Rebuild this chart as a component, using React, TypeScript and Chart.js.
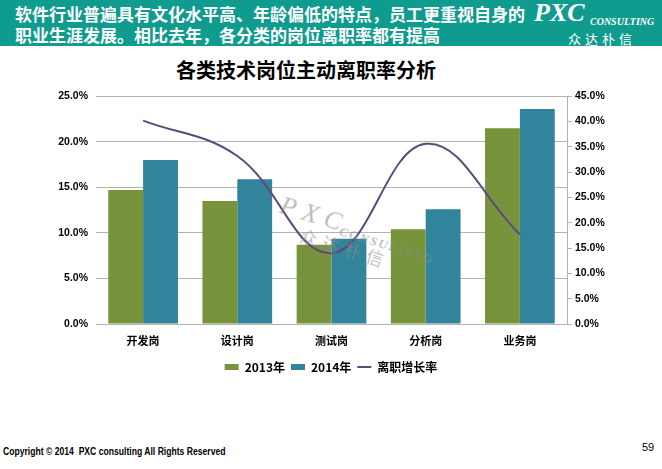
import React, { useEffect, useRef } from "react";
import { Chart, registerables } from "chart.js";

Chart.register(...registerables);

const categories = ["开发岗", "设计岗", "测试岗", "分析岗", "业务岗"];
const rate2013 = [14.7, 13.5, 8.7, 10.4, 21.5];
const rate2014 = [18.0, 15.9, 9.35, 12.6, 23.6];
const growthRate = [40.2, 33.2, 14.0, 35.6, 17.7];
const seriesNames = ["2013年", "2014年", "离职增长率"];

const GREEN = "#77933C";
const TEAL = "#31849B";
const PURPLE = "#5F497A";
const GRID = "#B3B3B3";

const tickFont = { family: "'Liberation Sans', Arial, sans-serif", size: 10.5, weight: "bold" as const };
const cjkFont = "'Noto Sans CJK SC', 'Noto Sans', sans-serif";

export default function App() {
  const ref = useRef<HTMLCanvasElement | null>(null);

  useEffect(() => {
    document.body.style.margin = "0";
    const canvas = ref.current;
    if (!canvas) return;
    const chart = new Chart(canvas, {
      type: "bar",
      data: {
        labels: categories,
        datasets: [
          {
            type: "bar",
            label: seriesNames[0],
            data: rate2013,
            backgroundColor: GREEN,
            yAxisID: "y",
            order: 2,
            barPercentage: 1,
            categoryPercentage: 0.74,
          },
          {
            type: "bar",
            label: seriesNames[1],
            data: rate2014,
            backgroundColor: TEAL,
            yAxisID: "y",
            order: 2,
            barPercentage: 1,
            categoryPercentage: 0.74,
          },
          {
            type: "line",
            label: seriesNames[2],
            data: growthRate,
            borderColor: PURPLE,
            backgroundColor: PURPLE,
            borderWidth: 2,
            pointRadius: 0,
            tension: 0.4,
            fill: false,
            yAxisID: "y1",
            order: 0,
          },
        ],
      },
      options: {
        responsive: false,
        animation: false,
        devicePixelRatio: 1,
        layout: { padding: { left: 0, right: 0, top: 10, bottom: 7 } },
        plugins: {
          tooltip: { enabled: false },
          legend: {
            position: "bottom",
            labels: {
              boxWidth: 14,
              boxHeight: 6,
              padding: 6,
              color: "#000",
              font: { family: cjkFont, size: 12, weight: "bold" },
              usePointStyle: true,
              pointStyleWidth: 14,
              generateLabels: () => [
                { text: seriesNames[0], fillStyle: GREEN, strokeStyle: GREEN, lineWidth: 0, pointStyle: "rect", datasetIndex: 0, hidden: false },
                { text: seriesNames[1], fillStyle: TEAL, strokeStyle: TEAL, lineWidth: 0, pointStyle: "rect", datasetIndex: 1, hidden: false },
                { text: seriesNames[2], fillStyle: PURPLE, strokeStyle: PURPLE, lineWidth: 2, pointStyle: "line", datasetIndex: 2, hidden: false },
              ] as any,
            },
          },
        },
        scales: {
          x: {
            grid: { display: false, drawTicks: false },
            border: { display: true, color: GRID, width: 1 },
            ticks: {
              color: "#000",
              padding: 10,
              font: { family: cjkFont, size: 11, weight: "bold" },
            },
            afterFit: (s: any) => {
              s.height = 31;
            },
          },
          y: {
            position: "left",
            min: 0,
            max: 25,
            grid: { color: GRID, lineWidth: 1, drawTicks: false },
            border: { display: false },
            ticks: {
              stepSize: 5,
              padding: 8,
              color: "#000",
              font: tickFont,
              callback: (v: any) => Number(v).toFixed(1) + "%",
            },
            afterFit: (s: any) => {
              s.width = 96;
            },
          },
          y1: {
            position: "right",
            min: 0,
            max: 45,
            grid: { drawOnChartArea: false, drawTicks: true, tickLength: 5, color: GRID },
            border: { display: true, color: GRID, width: 1 },
            ticks: {
              stepSize: 5,
              padding: 3,
              color: "#000",
              font: tickFont,
              callback: (v: any) => Number(v).toFixed(1) + "%",
            },
            afterFit: (s: any) => {
              s.width = 95;
            },
          },
        },
      },
    });
    return () => chart.destroy();
  }, []);

  const serif = "'Liberation Serif', 'DejaVu Serif', serif";

  return (
    <div
      style={{
        position: "absolute",
        left: 0,
        top: 0,
        width: 662,
        height: 469,
        overflow: "hidden",
        background: "#fff",
        fontFamily: cjkFont,
      }}
    >
      <div
        style={{
          position: "absolute",
          left: 0,
          top: 0,
          width: 662,
          height: 46,
          background: "#109B8F",
        }}
      />
      <div
        style={{
          position: "absolute",
          left: 15,
          top: 3,
          color: "#fff",
          fontWeight: "bold",
          fontSize: 17,
          lineHeight: "21px",
          whiteSpace: "nowrap",
        }}
      >
        软件行业普遍具有文化水平高、年龄偏低的特点，员工更重视自身的
        <br />
        职业生涯发展。相比去年，各分类的岗位离职率都有提高
      </div>
      <div
        style={{
          position: "absolute",
          left: 534,
          top: -2,
          color: "#fff",
          fontFamily: serif,
          fontStyle: "italic",
          fontWeight: "bold",
          fontSize: 26,
          whiteSpace: "nowrap",
        }}
      >
        PXC
      </div>
      <div
        style={{
          position: "absolute",
          left: 590,
          top: 16,
          color: "#fff",
          fontFamily: serif,
          fontStyle: "italic",
          fontWeight: "bold",
          fontSize: 10,
          whiteSpace: "nowrap",
        }}
      >
        CONSULTING
      </div>
      <div
        style={{
          position: "absolute",
          left: 568,
          top: 29,
          color: "#fff",
          fontSize: 13,
          letterSpacing: 4,
          whiteSpace: "nowrap",
        }}
      >
        众达朴信
      </div>
      <div
        style={{
          position: "absolute",
          left: 0,
          width: 612,
          top: 57,
          textAlign: "center",
          fontWeight: "bold",
          fontSize: 20,
          lineHeight: "26px",
          color: "#000",
        }}
      >
        各类技术岗位主动离职率分析
      </div>
      <canvas
        ref={ref}
        width={662}
        height={308}
        style={{ position: "absolute", left: 0, top: 82, width: 662, height: 308 }}
      />
      <div
        style={{
          position: "absolute",
          left: 285,
          top: 184,
          width: 200,
          height: 60,
          transform: "rotate(17deg)",
          transformOrigin: "0 0",
          color: "rgba(140,140,140,0.6)",
          fontFamily: serif,
          fontStyle: "italic",
          whiteSpace: "nowrap",
          pointerEvents: "none",
        }}
      >
        <div style={{ position: "absolute", left: 2, top: 6, fontSize: 26, lineHeight: "30px", letterSpacing: 7 }}>PXC</div>
        <div style={{ position: "absolute", left: 66, top: 21, fontSize: 13, lineHeight: "15px", fontWeight: "bold", letterSpacing: 1.5 }}>
          CONSULTING
        </div>
        <div
          style={{
            position: "absolute",
            left: 30,
            top: 33,
            fontSize: 17,
            lineHeight: "22px",
            letterSpacing: 6,
            fontFamily: cjkFont,
            fontStyle: "normal",
          }}
        >
          众达朴信
        </div>
      </div>
      <div
        style={{
          position: "absolute",
          left: 3,
          top: 446,
          fontSize: 10,
          fontFamily: "'Liberation Sans', Arial, sans-serif",
          fontWeight: "bold",
          color: "#000",
          whiteSpace: "nowrap",
          transform: "scaleX(0.86)",
          transformOrigin: "0 0",
        }}
      >
        Copyright © 2014&nbsp; PXC consulting All Rights Reserved
      </div>
      <div
        style={{
          position: "absolute",
          left: 642,
          top: 441,
          fontSize: 11,
          fontFamily: "'Liberation Sans', Arial, sans-serif",
          color: "#000",
        }}
      >
        59
      </div>
    </div>
  );
}
